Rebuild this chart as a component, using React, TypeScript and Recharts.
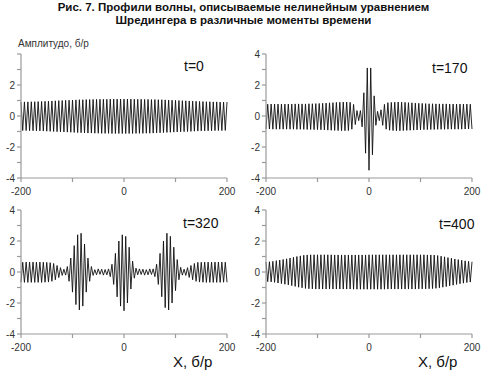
import { LineChart, Line, XAxis, YAxis } from 'recharts';

const TITLE_LINES = [
  'Рис. 7. Профили волны, описываемые нелинейным уравнением',
  'Шредингера в различные моменты времени',
];
const Y_LABEL = 'Амплитудо, б/р';
const X_LABEL = 'X, б/р';

const X_TICKS = [-200, -100, 0, 100, 200];
const Y_TICKS = [-4, -3, -2, -1, 0, 1, 2, 3, 4];

// samples are taken on an even grid, one extremum every half period
const X_START = -200;
const X_STEP = 400 / 120;

// t=0
const WAVE_T0 = [
  0.90, -0.94, 0.91, -0.94, 0.91, -0.95, 0.92, -0.95, 0.92, -0.96,
  0.93, -0.96, 0.94, -0.97, 0.95, -0.98, 0.96, -0.99, 0.97, -1.00,
  0.98, -1.01, 0.99, -1.02, 1.00, -1.03, 1.01, -1.04, 1.02, -1.05,
  1.03, -1.06, 1.04, -1.07, 1.05, -1.08, 1.05, -1.09, 1.06, -1.10,
  1.06, -1.10, 1.07, -1.11, 1.07, -1.11, 1.08, -1.12, 1.08, -1.12,
  1.08, -1.12, 1.09, -1.13, 1.09, -1.13, 1.09, -1.13, 1.09, -1.13,
  1.09, -1.13, 1.09, -1.13, 1.09, -1.13, 1.08, -1.12, 1.08, -1.12,
  1.08, -1.12, 1.07, -1.11, 1.07, -1.11, 1.06, -1.10, 1.06, -1.09,
  1.05, -1.08, 1.05, -1.07, 1.04, -1.06, 1.03, -1.05, 1.02, -1.04,
  1.01, -1.03, 1.00, -1.02, 0.99, -1.01, 0.98, -1.00, 0.97, -0.99,
  0.96, -0.98, 0.95, -0.97, 0.94, -0.96, 0.93, -0.96, 0.92, -0.95,
  0.92, -0.95, 0.91, -0.94, 0.91, -0.94, 0.90, -0.94, 0.90, -0.93,
  0.90,
];

// t=170
const WAVE_T170 = [
  -0.84, 0.76, -0.84, 0.77, -0.85, 0.77, -0.85, 0.77, -0.85, 0.77,
  -0.85, 0.77, -0.85, 0.77, -0.85, 0.77, -0.85, 0.78, -0.86, 0.78,
  -0.86, 0.78, -0.86, 0.78, -0.87, 0.79, -0.87, 0.79, -0.88, 0.80,
  -0.88, 0.81, -0.89, 0.82, -0.90, 0.83, -0.91, 0.85, -0.92, 0.86,
  -0.93, 0.88, -0.94, 0.89, -0.95, 0.90, -0.95, 0.90, -0.94, 0.88,
  -0.85, 0.75, -0.55, 0.35, -0.30, 0.35, -0.70, 1.50, -2.40, 3.10,
  -3.50, 3.10, -2.50, 1.30, -0.60, 0.30, -0.30, 0.40, -0.60, 0.75,
  -0.85, 0.86, -0.92, 0.88, -0.94, 0.89, -0.95, 0.90, -0.95, 0.89,
  -0.94, 0.88, -0.93, 0.86, -0.92, 0.85, -0.91, 0.83, -0.90, 0.82,
  -0.89, 0.81, -0.88, 0.80, -0.88, 0.79, -0.87, 0.79, -0.87, 0.78,
  -0.86, 0.78, -0.86, 0.78, -0.86, 0.78, -0.85, 0.77, -0.85, 0.77,
  -0.85, 0.77, -0.85, 0.77, -0.85, 0.77, -0.84, 0.77, -0.84, 0.76,
  -0.84,
];

// t=320
const WAVE_T320 = [
  -0.66, 0.63, -0.67, 0.64, -0.67, 0.64, -0.67, 0.64, -0.67, 0.64,
  -0.67, 0.64, -0.67, 0.63, -0.66, 0.62, -0.65, 0.60, -0.60, 0.55,
  -0.50, 0.42, -0.36, 0.28, -0.22, 0.18, -0.20, 0.35, -0.60, 0.90,
  -1.30, 1.70, -2.10, 2.40, -2.45, 2.50, -2.20, 1.80, -1.30, 0.90,
  -0.60, 0.35, -0.22, 0.15, -0.18, 0.20, -0.15, 0.18, -0.20, 0.16,
  -0.18, 0.20, -0.30, 0.50, -0.80, 1.20, -1.60, 2.00, -2.20, 2.40,
  -2.50, 2.30, -2.00, 1.60, -1.10, 0.70, -0.40, 0.25, -0.18, 0.20,
  -0.16, 0.18, -0.20, 0.15, -0.18, 0.20, -0.16, 0.20, -0.30, 0.50,
  -0.80, 1.20, -1.60, 2.00, -2.30, 2.50, -2.45, 2.30, -2.00, 1.60,
  -1.20, 0.80, -0.50, 0.30, -0.20, 0.18, -0.22, 0.28, -0.35, 0.42,
  -0.50, 0.55, -0.60, 0.62, -0.65, 0.63, -0.66, 0.64, -0.67, 0.64,
  -0.67, 0.64, -0.67, 0.64, -0.67, 0.64, -0.67, 0.64, -0.66, 0.63,
  -0.66,
];

// t=400
const WAVE_T400 = [
  0.64, -0.62, 0.66, -0.64, 0.69, -0.67, 0.73, -0.71, 0.77, -0.75,
  0.81, -0.79, 0.85, -0.83, 0.90, -0.88, 0.95, -0.93, 1.00, -0.98,
  1.04, -1.02, 1.08, -1.06, 1.10, -1.08, 1.11, -1.09, 1.11, -1.10,
  1.11, -1.10, 1.11, -1.10, 1.11, -1.10, 1.11, -1.10, 1.11, -1.10,
  1.10, -1.10, 1.10, -1.10, 1.10, -1.10, 1.10, -1.10, 1.10, -1.10,
  1.10, -1.11, 1.10, -1.11, 1.10, -1.11, 1.10, -1.11, 1.10, -1.11,
  1.11, -1.11, 1.11, -1.11, 1.11, -1.11, 1.11, -1.11, 1.11, -1.11,
  1.11, -1.10, 1.11, -1.10, 1.11, -1.10, 1.11, -1.10, 1.11, -1.10,
  1.11, -1.10, 1.11, -1.10, 1.11, -1.10, 1.11, -1.10, 1.11, -1.09,
  1.11, -1.09, 1.11, -1.09, 1.10, -1.08, 1.10, -1.07, 1.09, -1.05,
  1.06, -1.02, 1.02, -0.98, 0.98, -0.94, 0.93, -0.89, 0.89, -0.85,
  0.84, -0.80, 0.80, -0.76, 0.76, -0.72, 0.72, -0.68, 0.69, -0.65,
  0.66,
];

const FONT = '"Liberation Sans", Arial, sans-serif';
const AXIS_COLOR = '#9a9a9a';
const TEXT_COLOR = '#333';

type PanelProps = {
  values: number[];
  left: number;
  top: number;
  hideTopLabel?: boolean;
};

function Panel({ values, left, top, hideTopLabel }: PanelProps) {
  const data = values.map((y, i) => ({ x: X_START + i * X_STEP, y }));

  return (
    <div style={{ position: 'absolute', left, top }}>
      <LineChart width={240} height={162} data={data} margin={{ top: 14, right: 13, bottom: 4, left: 0 }}>
        <XAxis
          type="number"
          dataKey="x"
          domain={[-200, 200]}
          ticks={X_TICKS}
          interval={0}
          tickFormatter={v => (v % 200 === 0 ? String(v) : '')}
          tick={{ fontSize: 10, fill: TEXT_COLOR, fontFamily: FONT }}
          stroke={AXIS_COLOR}
          strokeWidth={1.2}
          tickSize={4}
          tickMargin={6}
          height={20}
        />
        <YAxis
          type="number"
          domain={[-4, 4]}
          ticks={Y_TICKS}
          interval={0}
          width={21}
          tickFormatter={v => {
            if (v % 2 !== 0) return '';
            if (hideTopLabel && v === 4) return '';
            return String(v);
          }}
          tick={{ fontSize: 10, fill: TEXT_COLOR, fontFamily: FONT }}
          stroke={AXIS_COLOR}
          strokeWidth={1.2}
          tickSize={4}
          tickMargin={2}
        />
        <Line
          type="linear"
          dataKey="y"
          stroke="#111"
          strokeWidth={0.9}
          dot={false}
          isAnimationActive={false}
        />
      </LineChart>
    </div>
  );
}

const textAt = (left: number, top: number, size: number, extra: object = {}) => ({
  position: 'absolute' as const,
  left,
  top,
  fontSize: size,
  lineHeight: `${size + 2}px`,
  color: '#111',
  fontFamily: FONT,
  whiteSpace: 'nowrap' as const,
  ...extra,
});

export default function App() {
  return (
    <div style={{ position: 'absolute', left: 0, top: 0, width: 487, height: 375, background: '#fff', fontFamily: FONT }}>
      <div
        style={{
          position: 'absolute',
          left: 0,
          top: 1,
          width: 487,
          textAlign: 'center',
          fontWeight: 'bold',
          fontSize: 11.5,
          lineHeight: '13px',
          color: '#111',
        }}
      >
        {TITLE_LINES.map(line => (
          <div key={line}>{line}</div>
        ))}
      </div>
      <div style={textAt(18, 38, 10, { color: TEXT_COLOR })}>{Y_LABEL}</div>

      <Panel values={WAVE_T0} left={0} top={40} hideTopLabel />
      <Panel values={WAVE_T170} left={245} top={40} />
      <Panel values={WAVE_T320} left={0} top={196} />
      <Panel values={WAVE_T400} left={245} top={196} />

      <div style={textAt(184, 58, 14)}>t=0</div>
      <div style={textAt(432, 60, 14)}>t=170</div>
      <div style={textAt(183, 215, 14)}>t=320</div>
      <div style={textAt(439, 216, 14)}>t=400</div>

      <div style={textAt(173, 353, 15)}>{X_LABEL}</div>
      <div style={textAt(418, 353, 15)}>{X_LABEL}</div>
    </div>
  );
}
